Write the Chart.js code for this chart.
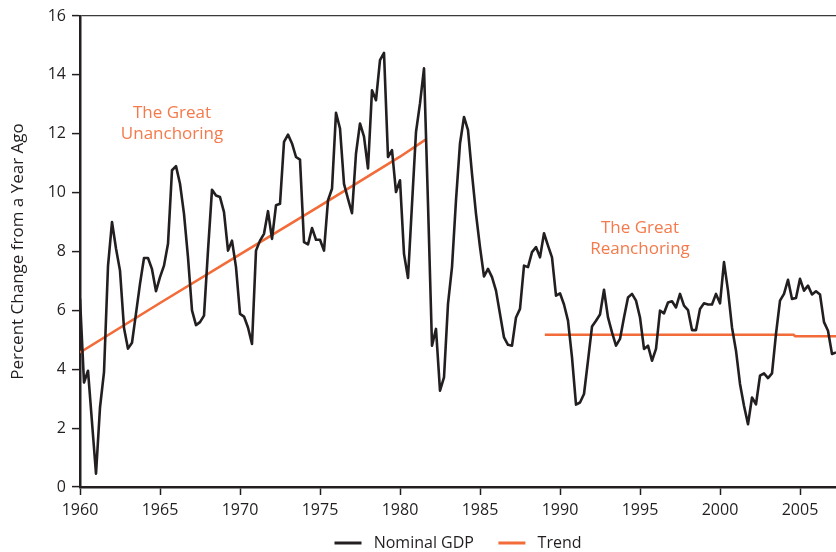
<!DOCTYPE html>
<html>
<head>
<meta charset="utf-8">
<script src="https://cdn.jsdelivr.net/npm/chart.js@4"></script>
<style>
  body { margin: 0; background: #fff; }
  #chart { display: block; }
</style>
</head>
<body>
<canvas id="chart" width="836" height="552"></canvas>
<script>
// quarterly data, first value is 1960 Q1
const startYear = 1960;
const gdp = [
  6.4, 3.55, 3.95, 2.2,      // 1960
  0.45, 2.7, 3.9, 7.5,       // 1961
  9.0, 8.1, 7.35, 5.4,       // 1962
  4.7, 4.9, 5.9, 6.9,        // 1963
  7.78, 7.78, 7.4, 6.65,     // 1964
  7.13, 7.52, 8.26, 10.76,   // 1965
  10.9, 10.3, 9.28, 7.8,     // 1966
  6.0, 5.5, 5.6, 5.82,       // 1967
  8.03, 10.1, 9.9, 9.85,     // 1968
  9.34, 8.03, 8.37, 7.47,    // 1969
  5.88, 5.79, 5.42, 4.86,    // 1970
  8.03, 8.37, 8.6, 9.37,     // 1971
  8.43, 9.57, 9.62, 11.72,   // 1972
  11.97, 11.67, 11.21, 11.12,// 1973
  8.32, 8.24, 8.8, 8.4,      // 1974
  8.4, 8.03, 9.74, 10.13,    // 1975
  12.71, 12.18, 10.3, 9.79,  // 1976
  9.3, 11.33, 12.35, 11.9,   // 1977
  10.82, 13.48, 13.14, 14.5, // 1978
  14.75, 11.21, 11.44, 10.02,// 1979
  10.42, 7.92, 7.1, 9.6,     // 1980
  12.06, 13.03, 14.22, 9.62, // 1981
  4.8, 5.37, 3.27, 3.72,     // 1982
  6.22, 7.47, 9.74, 11.67,   // 1983
  12.57, 12.12, 10.64, 9.28, // 1984
  8.15, 7.15, 7.41, 7.13,    // 1985
  6.67, 5.88, 5.08, 4.83,    // 1986
  4.8, 5.76, 6.05, 7.52,     // 1987
  7.47, 7.98, 8.15, 7.8,     // 1988
  8.62, 8.2, 7.8, 6.5,       // 1989
  6.58, 6.2, 5.65, 4.4,      // 1990
  2.8, 2.87, 3.16, 4.29,     // 1991
  5.45, 5.65, 5.86, 6.7,     // 1992
  5.76, 5.25, 4.8, 5.03,     // 1993
  5.76, 6.44, 6.56, 6.33,    // 1994
  5.76, 4.69, 4.8, 4.29,     // 1995
  4.69, 5.99, 5.9, 6.27,     // 1996
  6.31, 6.1, 6.56, 6.16,     // 1997
  6.01, 5.33, 5.33, 6.05,    // 1998
  6.24, 6.2, 6.2, 6.56,      // 1999
  6.24, 7.64, 6.67, 5.42,    // 2000
  4.63, 3.5, 2.76, 2.13,     // 2001
  3.04, 2.81, 3.78, 3.86,    // 2002
  3.7, 3.86, 5.2, 6.33,      // 2003
  6.56, 7.04, 6.39, 6.42,    // 2004
  7.07, 6.67, 6.84, 6.54,    // 2005
  6.65, 6.54, 5.6, 5.31,     // 2006
  4.52, 4.57                 // 2007
];

// trend pieces
const trendYears1 = [1960, 1965, 1970, 1975, 1980, 1981.6];
const trendValues1 = [4.57, 6.25, 7.9, 9.55, 11.22, 11.8];
const trendYears2 = [1989.05, 2004.6, 2004.7, 2007.25];
const trendValues2 = [5.17, 5.17, 5.12, 5.12];

const yTicks = [0, 2, 4, 6, 8, 10, 12, 14, 16];
const xTickYears = [1960, 1965, 1970, 1975, 1980, 1985, 1990, 1995, 2000, 2005];

const notes = [
  { x: 1965.75, y: 12.7, text: 'The Great' },
  { x: 1965.75, y: 11.98, text: 'Unanchoring' },
  { x: 1995.0, y: 8.78, text: 'The Great' },
  { x: 1995.0, y: 8.07, text: 'Reanchoring' }
];

const black = '#231f20';
const orange = '#f26b38';
const noteColor = '#f47a4c';

const gdpPoints = gdp.map((v, i) => ({ x: startYear + i / 4, y: v }));
const trend1 = trendYears1.map((t, i) => ({ x: t, y: trendValues1[i] }));
const trend2 = trendYears2.map((t, i) => ({ x: t, y: trendValues2[i] }));

const notePlugin = {
  id: 'notes',
  afterDatasetsDraw(chart) {
    const ctx = chart.ctx;
    const xs = chart.scales.x, ys = chart.scales.y;
    ctx.save();
    ctx.font = '17px "Open Sans"';
    ctx.fillStyle = noteColor;
    ctx.textAlign = 'center';
    ctx.textBaseline = 'middle';
    notes.forEach(n => {
      ctx.fillText(n.text, xs.getPixelForValue(n.x), ys.getPixelForValue(n.y));
    });
    ctx.restore();
  }
};

Chart.defaults.font.family = '"Open Sans", sans-serif';
Chart.defaults.color = black;

new Chart(document.getElementById('chart'), {
  type: 'line',
  data: {
    datasets: [{
      label: 'Nominal GDP',
      data: gdpPoints,
      borderColor: black,
      backgroundColor: black,
      borderWidth: 2.6,
      borderJoinStyle: 'round',
      pointRadius: 0,
      tension: 0
    }, {
      label: 'Trend',
      data: trend1,
      borderColor: orange,
      backgroundColor: orange,
      borderWidth: 2.6,
      pointRadius: 0,
      tension: 0
    }, {
      label: 'Trend2',
      data: trend2,
      borderColor: orange,
      backgroundColor: orange,
      borderWidth: 2.6,
      pointRadius: 0,
      tension: 0
    }]
  },
  options: {
    responsive: false,
    animation: false,
    layout: { padding: { top: 16, right: 0, left: 0, bottom: -9 } },
    plugins: {
      tooltip: { enabled: false },
      legend: {
        position: 'bottom',
        fullSize: false,
        labels: {
          boxWidth: 27,
          boxHeight: 3,
          padding: 12,
          font: { size: 16 },
          color: black,
          filter: item => item.datasetIndex !== 2,
          generateLabels(chart) {
            const items = Chart.defaults.plugins.legend.labels.generateLabels(chart);
            items.forEach(it => {
              it.lineWidth = 0;
              it.text = ' ' + it.text + (it.datasetIndex === 0 ? '\u00a0\u00a0\u00a0' : '');
            });
            return items;
          }
        }
      }
    },
    scales: {
      x: {
        type: 'linear',
        min: 1960,
        max: 2007.25,
        afterBuildTicks: axis => { axis.ticks = xTickYears.map(v => ({ value: v })); },
        ticks: { font: { size: 16 }, color: black, padding: 6, maxRotation: 0, callback: v => String(v) },
        grid: { drawOnChartArea: false, tickLength: 8, tickColor: black, tickWidth: 1.5 },
        border: { color: black, width: 2.5 },
        afterFit: s => { s.height = 36; }
      },
      y: {
        min: 0,
        max: 16,
        afterBuildTicks: axis => { axis.ticks = yTicks.map(v => ({ value: v })); },
        ticks: { font: { size: 16 }, color: black, padding: 6 },
        grid: {
          tickLength: 8,
          tickColor: black,
          tickWidth: 1.5,
          color: c => (c.tick && c.tick.value === 16 ? '#3a3a3a' : 'rgba(0,0,0,0)'),
          lineWidth: 1.2
        },
        border: { color: black, width: 2.5 },
        title: {
          display: true,
          text: 'Percent Change from a Year Ago',
          font: { size: 17 },
          color: black,
          padding: { top: 8, bottom: 0 }
        },
        afterFit: s => { s.width = 80; }
      }
    }
  },
  plugins: [notePlugin]
});
</script>
</body>
</html>
